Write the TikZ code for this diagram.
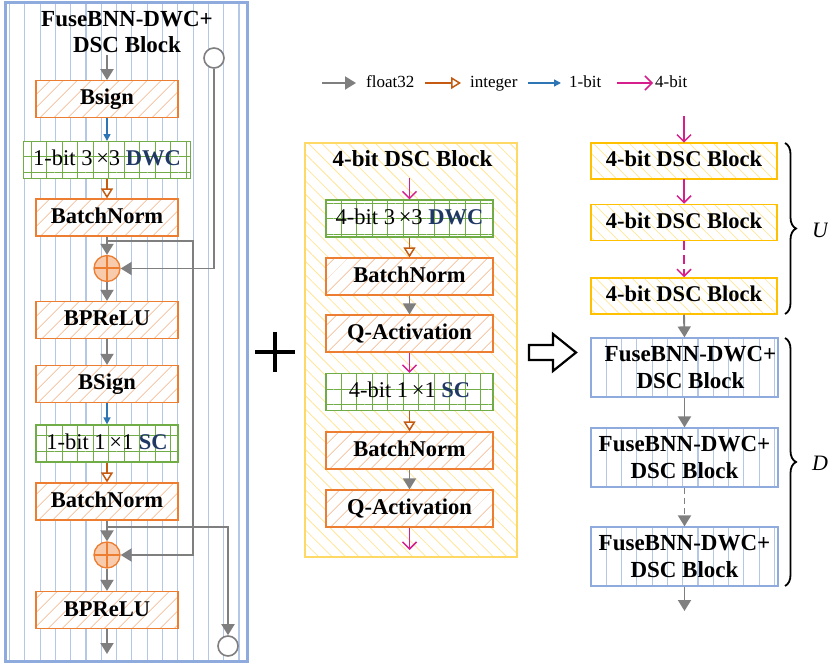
\documentclass[tikz,border=0pt]{standalone}
\usepackage{fontspec}
\setmainfont{Liberation Serif}
\usetikzlibrary{arrows.meta,patterns.meta,decorations.pathreplacing}

\definecolor{frameblue}{HTML}{8FAADC}
\definecolor{stripeblue}{HTML}{B4C7E7}
\definecolor{boxorange}{HTML}{ED7D31}
\definecolor{hatchorange}{HTML}{F4B183}
\definecolor{plusfill}{HTML}{F8CBAD}
\definecolor{gridgreen}{HTML}{70AD47}
\definecolor{navy}{HTML}{203864}
\definecolor{flowgray}{HTML}{7F7F7F}
\definecolor{intorange}{HTML}{C55A11}
\definecolor{bitblue}{HTML}{2E75B6}
\definecolor{quadmag}{HTML}{D61F8C}
\definecolor{panelyellow}{HTML}{FFD966}
\definecolor{hatchyellow}{HTML}{FFE699}
\definecolor{blockyellow}{HTML}{FFC000}

\tikzset{
  stripes/.style={preaction={fill=white},
    pattern={Lines[angle=90,distance=15.3pt,xshift=9.5pt,line width=1.1pt]},
    pattern color=stripeblue},
  labelfont/.style={font=\fontsize{22.5}{24}\selectfont\bfseries,
    text height=16pt, text depth=4pt, inner sep=0pt},
  titlefont/.style={font=\fontsize{23}{27}\selectfont\bfseries, inner sep=0pt},
  opbox/.style={labelfont, draw=boxorange, line width=1.2pt,
    preaction={fill=white},
    pattern={Lines[angle=45,distance=10.5pt,line width=0.8pt]},
    pattern color=hatchorange,
    minimum width=142pt, minimum height=37pt},
  gridbox/.style={draw=gridgreen, line width=1.2pt, preaction={fill=white},
    pattern={Hatch[distance=15.5pt,line width=0.9pt]},
    pattern color=gridgreen,
    minimum height=37pt, inner sep=0pt,
    font=\fontsize{22.5}{24}\selectfont, text height=16pt, text depth=4pt},
  qblock/.style={labelfont, draw=blockyellow, line width=1.5pt,
    preaction={fill=white},
    pattern={Lines[angle=-45,distance=8.5pt,line width=0.7pt]},
    pattern color=hatchyellow,
    minimum width=186pt, minimum height=36pt},
  fblock/.style={stripes, draw=frameblue, line width=1.2pt,
    minimum width=187pt, minimum height=59pt, inner sep=0pt,
    align=center, font=\fontsize{23}{27}\selectfont\bfseries},
  ftext/.style={align=center, inner sep=0pt,
    font=\fontsize{23}{27}\selectfont\bfseries},
  oplus/.style={circle, draw=boxorange, fill=plusfill, line width=1.3pt,
    minimum size=26pt, inner sep=0pt,
    path picture={\draw[boxorange, line width=2pt]
      (path picture bounding box.north) -- (path picture bounding box.south)
      (path picture bounding box.west) -- (path picture bounding box.east);}},
  endc/.style={circle, draw=flowgray, fill=white, line width=1.6pt,
    minimum size=20pt, inner sep=0pt},
  gflow/.style={draw=flowgray, line width=1.9pt,
    -{Triangle[length=11pt,width=13pt]}},
  iflow/.style={draw=intorange, line width=1.5pt,
    -{Triangle[open,length=10pt,width=12pt]}},
  bflow/.style={draw=bitblue, line width=1.4pt,
    -{Triangle[length=7pt,width=7pt]}},
  qflow/.style={draw=quadmag, line width=1.5pt,
    -{Straight Barb[length=7pt,width=14pt]}},
  brace/.style={draw=black, line width=1.8pt, decorate,
    decoration={brace, amplitude=11pt}},
  legendtext/.style={font=\fontsize{17}{19}\selectfont, inner sep=0pt,
    anchor=base west},
  sidelabel/.style={font=\fontsize{22}{24}\selectfont\itshape, inner sep=0pt,
    anchor=west}
}

\begin{document}
\begin{tikzpicture}[x=1pt,y=-1pt]
\useasboundingbox (0,0) rectangle (828,668);

% ---------- FuseBNN-DWC+ DSC block (left) ----------
\node[stripes, draw=frameblue, line width=3pt,
      minimum width=241.5pt, minimum height=658.5pt] (lpanel) at (126.25,332.25) {};

\node[titlefont, anchor=base] (lt1) at (127,27) {FuseBNN-DWC+};
\node[titlefont, anchor=base] (lt2) at (127,53) {DSC Block};

\coordinate (lin) at (107,55);
\node[opbox] (lbs1) at (107,99) {Bsign};
\node[gridbox, minimum width=167pt] (ldwc) at (107,160) {1-bit 3\,×3 \textbf{\color{navy}DWC}};
\node[opbox] (lbn1) at (107,217.5) {BatchNorm};
\node[oplus] (ladd1) at (107,268.5) {};
\node[opbox] (lbp1) at (107,320) {BPReLU};
\node[opbox] (lbs2) at (107,384) {BSign};
\node[gridbox, minimum width=142pt] (lsc) at (107,443.5) {1-bit 1\,×1 \textbf{\color{navy}SC}};
\node[opbox] (lbn2) at (107,501.5) {BatchNorm};
\node[oplus] (ladd2) at (107,555) {};
\node[opbox] (lbp2) at (107,610) {BPReLU};
\coordinate (lout) at (107,654);

\draw[gflow] (lin) -- (lbs1.north);
\draw[bflow] (lbs1.south) -- (ldwc.north);
\draw[iflow] (ldwc.south) -- (lbn1.north);
\draw[gflow] (lbn1.south) -- (ladd1.north);
\draw[gflow] (ladd1.south) -- (lbp1.north);
\draw[gflow] (lbp1.south) -- (lbs2.north);
\draw[bflow] (lbs2.south) -- (lsc.north);
\draw[iflow] (lsc.south) -- (lbn2.north);
\draw[gflow] (lbn2.south) -- (ladd2.north);
\draw[gflow] (ladd2.south) -- (lbp2.north);
\draw[gflow] (lbp2.south) -- (lout);

% shortcut paths
\node[endc] (lc1) at (214,58) {};
\draw[gflow] (lc1.south) |- (ladd1.east);
\coordinate (lbr1) at (107,241);
\coordinate (lk1) at (193,241);
\draw[gflow] (lbr1) -- (lk1) |- (ladd2.east);
\coordinate (lbr2) at (107,527);
\coordinate (lk2) at (228,527);
\node[endc] (lc2) at (228,646) {};
\draw[gflow] (lbr2) -- (lk2) -- (lc2.north);

% ---------- plus sign ----------
\draw[line width=4pt] (255,352) -- (295,352) (275,332) -- (275,372);

% ---------- 4-bit DSC block (middle) ----------
\node[draw=panelyellow, line width=2.5pt, preaction={fill=white},
      pattern={Lines[angle=-45,distance=9.5pt,line width=0.8pt]},
      pattern color=hatchyellow,
      minimum width=212pt, minimum height=414pt] (mpanel) at (411,350) {};
\node[titlefont, anchor=base] (mtitle) at (412.5,167) {4-bit DSC Block};
\coordinate (min) at (409.5,178);
\node[gridbox, minimum width=167pt] (mdwc) at (409.5,218.5) {4-bit 3\,×3 \textbf{\color{navy}DWC}};
\node[opbox, minimum width=167pt] (mbn1) at (409.5,276.5) {BatchNorm};
\node[opbox, minimum width=167pt] (mqa1) at (409.5,333.5) {Q-Activation};
\node[gridbox, minimum width=167pt] (msc) at (409.5,392) {4-bit 1\,×1 \textbf{\color{navy}SC}};
\node[opbox, minimum width=167pt] (mbn2) at (409.5,450.5) {BatchNorm};
\node[opbox, minimum width=167pt] (mqa2) at (409.5,508.5) {Q-Activation};
\coordinate (mout) at (409.5,550);

\draw[qflow] (min) -- (mdwc.north);
\draw[iflow] (mdwc.south) -- (mbn1.north);
\draw[gflow] (mbn1.south) -- (mqa1.north);
\draw[qflow] (mqa1.south) -- (msc.north);
\draw[iflow] (msc.south) -- (mbn2.north);
\draw[gflow] (mbn2.south) -- (mqa2.north);
\draw[qflow] (mqa2.south) -- (mout);

% ---------- block arrow ----------
\draw[line width=2.2pt, line join=miter]
  (529,345) -- (553,345) -- (553,334) -- (576,352.5) -- (553,371)
  -- (553,360) -- (529,360) -- cycle;

% ---------- legend ----------
\coordinate (lgA1) at (322,83); \coordinate (lgA2) at (356,83);
\draw[gflow] (lgA1) -- (lgA2);
\node[legendtext] (lgAt) at (366,88) {float32};
\coordinate (lgB1) at (425,83); \coordinate (lgB2) at (461,83);
\draw[iflow] (lgB1) -- (lgB2);
\node[legendtext] (lgBt) at (470,88) {integer};
\coordinate (lgC1) at (528,83); \coordinate (lgC2) at (561,83);
\draw[bflow] (lgC1) -- (lgC2);
\node[legendtext] (lgCt) at (569,88) {1-bit};
\coordinate (lgD1) at (617,83); \coordinate (lgD2) at (653,83);
\draw[qflow] (lgD1) -- (lgD2);
\node[legendtext] (lgDt) at (655,88) {4-bit};

% ---------- stacked network (right) ----------
\coordinate (rin) at (684,116);
\node[qblock] (rq1) at (684,161) {4-bit DSC Block};
\node[qblock] (rq2) at (684,222.5) {4-bit DSC Block};
\node[qblock] (rq3) at (684,296) {4-bit DSC Block};
\node[fblock] (rf1) at (684.5,367.5) {};
\node[ftext] (rf1t) at (690.5,367.5) {FuseBNN-DWC+\\DSC Block};
\node[fblock] (rf2) at (684.5,457.5) {FuseBNN-DWC+\\DSC Block};
\node[fblock] (rf3) at (684.5,556.5) {FuseBNN-DWC+\\DSC Block};
\coordinate (rout) at (684.5,611);

\draw[qflow] (rin) -- (rq1.north);
\draw[qflow] (rq1.south) -- (rq2.north);
\draw[qflow, dash pattern=on 9pt off 5pt] (rq2.south) -- (rq3.north);
\draw[gflow] (rq3.south) -- (rf1.north);
\draw[gflow] (rf1.south) -- (rf2.north);
\draw[gflow, dash pattern=on 6pt off 4pt] (rf2.south) -- (rf3.north);
\draw[gflow] (rf3.south) -- (rout);

% ---------- braces ----------
\coordinate (uA) at (785,143); \coordinate (uB) at (785,314);
\draw[brace] (uA) -- (uB);
\node[sidelabel] (ulab) at (812,230) {U};
\coordinate (dA) at (785,338); \coordinate (dB) at (785,586);
\draw[brace] (dA) -- (dB);
\node[sidelabel] (dlab) at (812,463) {D};
\end{tikzpicture}
\end{document}
